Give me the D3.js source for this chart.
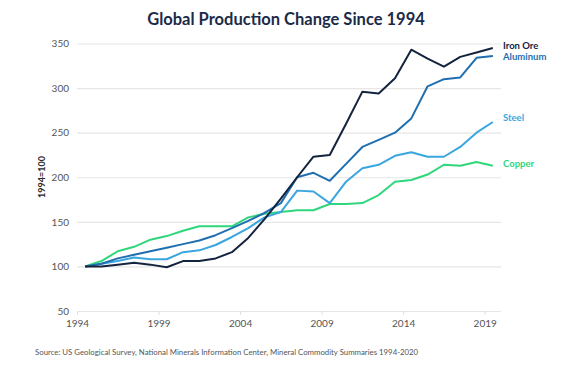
<!DOCTYPE html>
<html><head><meta charset="utf-8">
<script src="https://cdn.jsdelivr.net/npm/d3@7"></script>
<style>body{margin:0;background:#fff}svg{display:block}</style>
</head><body><svg id="c" width="572" height="378"></svg>
<script>
const years = d3.range(1994, 2020);
const ironOre  = [100,100,102,104,102,99,106,106,109,116,132,153,176,200,223,225,260,296,294,311,343,333,324,335,340,345];
const aluminum = [100,103,109,113,117,121,125,129,135,143,151,160,171,200,205,196,215,234,242,250,266,302,310,312,334,336];
const steel    = [100,103,106,110,108,108,116,118,124,133,143,155,161,185,184,171,195,210,214,224,228,223,223,234,250,262];
const copper   = [100,106,117,122,130,134,140,145,145,145,155,159,161,163,163,170,170,171,180,195,197,203,214,213,217,213];
const seriesNames = ["Iron Ore","Aluminum","Steel","Copper"];
const colors = ["#14243f","#1f6fb0","#3aa6df","#2fd67b"];
const labelValues = [347.5, 335.5, 266.5, 215];
const yTicks = [50,100,150,200,250,300,350];
const xTicks = [1994,1999,2004,2009,2014,2019];

const svg = d3.select("#c");
const font = "Lato, 'Open Sans', sans-serif";
const x = d3.scaleLinear().domain([1994, 2020]).range([77, 501]);
const y = d3.scaleLinear().domain([50, 350]).range([311, 43.5]);

svg.append("text").attr("x", 286).attr("y", 25).attr("text-anchor","middle")
  .attr("font-family", font).attr("font-weight", 700).attr("font-size", 16.5)
  .attr("fill", "#1c2a48").text("Global Production Change Since 1994");

// grid
const yAxis = d3.axisLeft(y).tickValues(yTicks).tickSize(-(501-77)).tickPadding(8);
const gy = svg.append("g").attr("transform","translate(77,0)").call(yAxis);
gy.select(".domain").remove();
gy.selectAll(".tick line").attr("stroke","#e6e6e6").attr("stroke-width",1.2);
gy.selectAll(".tick text").attr("font-family",font).attr("font-size",10).attr("fill","#555").attr("x",-8);

const xAxis = d3.axisBottom(x).tickValues(xTicks).tickFormat(d3.format("d")).tickSize(4).tickPadding(5);
const gx = svg.append("g").attr("transform","translate(0,311)").call(xAxis);
gx.select(".domain").remove();
gx.selectAll(".tick line").attr("stroke","#e0e0e0");
gx.selectAll(".tick text").attr("font-family",font).attr("font-size",10).attr("fill","#555");

svg.append("text").attr("transform","translate(45,177) rotate(-90)").attr("text-anchor","middle")
  .attr("font-family",font).attr("font-weight",700).attr("font-size",9).attr("fill","#2a2a2a").text("1994=100");

const allSeries = [ironOre, aluminum, steel, copper];
const line = d3.line().x((d,i)=>x(years[i]+0.5)).y(d=>y(d));
// draw copper first, iron ore last
[3,2,1,0].forEach(k=>{
  svg.append("path").datum(allSeries[k]).attr("d", line).attr("fill","none")
    .attr("stroke", colors[k]).attr("stroke-width", 2).attr("stroke-linejoin","round");
});

seriesNames.forEach((n,k)=>{
  svg.append("text").attr("x", 503).attr("y", y(labelValues[k])).attr("dy","0.35em")
    .attr("font-family",font).attr("font-weight",700).attr("font-size",9.5)
    .attr("fill", colors[k]).text(n);
});

svg.append("text").attr("x",35).attr("y",355)
  .attr("font-family",font).attr("font-size",7.8).attr("fill","#555")
  .text("Source: US Geological Survey, National Minerals Information Center, Mineral Commodity Summaries 1994-2020");
</script></body></html>
